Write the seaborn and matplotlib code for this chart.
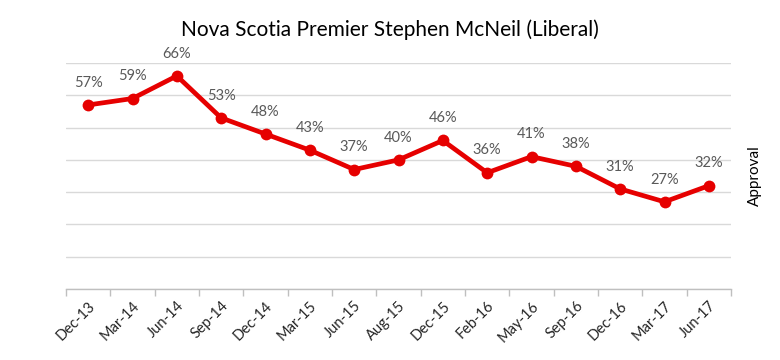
import matplotlib
matplotlib.use("Agg")
import matplotlib.pyplot as plt
import seaborn as sns
import pandas as pd
import numpy as np
from matplotlib.ticker import FixedLocator

periods = ["Dec-13", "Mar-14", "Jun-14", "Sep-14", "Dec-14", "Mar-15", "Jun-15", "Aug-15",
           "Dec-15", "Feb-16", "May-16", "Sep-16", "Dec-16", "Mar-17", "Jun-17"]
approval = [57, 59, 66, 53, 48, 43, 37, 40, 46, 36, 41, 38, 31, 27, 32]

df = pd.DataFrame({"period": periods, "approval": approval})

sns.set_theme(style="white")
plt.rcParams['font.family'] = ['Lato', 'DejaVu Sans']

fig = plt.figure(figsize=(7.8, 3.6), dpi=100)
ax = fig.add_axes([66/780, 1 - 289/360, (731-66)/780, (289-63)/360])

sns.lineplot(data=df, x="period", y="approval", ax=ax, color="#E60000", linewidth=3.4,
             marker="o", markersize=8.5, markeredgewidth=0, sort=False)

for i, v in enumerate(approval):
    ax.annotate(f"{v}%", (i, v), xytext=(0, 11), textcoords="offset points",
                ha="center", va="bottom", fontsize=10.5, color="#595959")

ax.set_ylim(0, 70)
ax.set_xlim(-0.5, len(periods) - 0.5)
ax.set_yticks(np.arange(0, 71, 10))
ax.set_yticklabels([])
ax.tick_params(axis="y", length=0)
ax.yaxis.grid(True, color="#D9D9D9", linewidth=1)
ax.xaxis.grid(False)

ax.set_xticks(range(len(periods)))
ax.set_xticklabels(periods, rotation=45, ha="right", rotation_mode="anchor",
                   fontsize=10.5, color="#262626")
ax.tick_params(axis="x", which="major", length=0, pad=7)
ax.xaxis.set_minor_locator(FixedLocator(np.arange(-0.5, len(periods), 1)))
ax.tick_params(axis="x", which="minor", length=5, width=1, color="#BFBFBF", direction="out", bottom=True)

for s in ["top", "left", "right"]:
    ax.spines[s].set_visible(False)
ax.spines["bottom"].set_color("#BFBFBF")
ax.spines["bottom"].set_linewidth(1)

ax.set_xlabel("")
ax.yaxis.set_label_position("right")
ax.set_ylabel("Approval", fontsize=11, color="#000000", labelpad=12)

fig.text(0.5, 1 - 30/360, "Nova Scotia Premier Stephen McNeil (Liberal)",
         ha="center", va="center", fontsize=15, color="#000000")

fig.savefig("out.png", dpi=100, facecolor="white")
